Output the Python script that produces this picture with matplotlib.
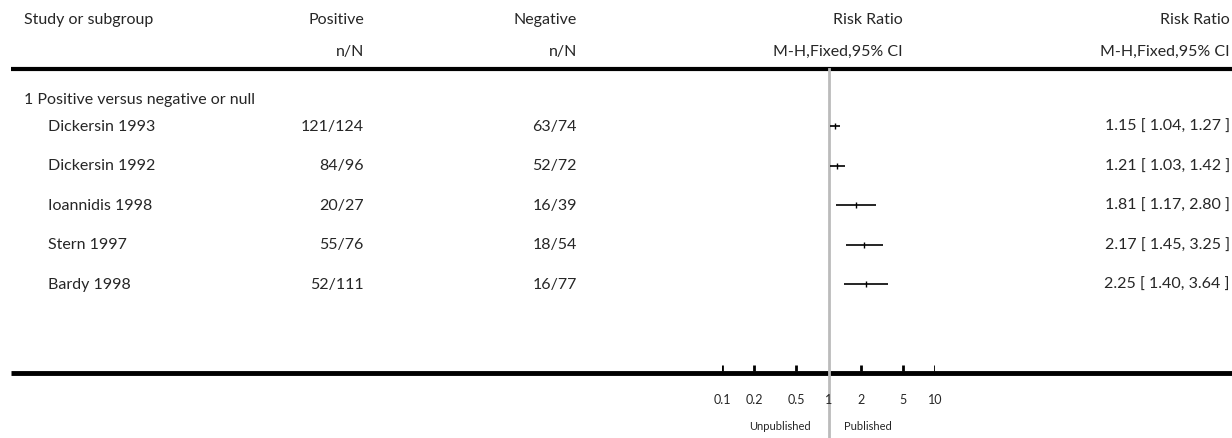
import numpy as np
import matplotlib.pyplot as plt

plt.rcParams['font.family'] = ['Lato', 'DejaVu Sans']

subgroup = '1 Positive versus negative or null'
studies = ['Dickersin 1993', 'Dickersin 1992', 'Ioannidis 1998', 'Stern 1997', 'Bardy 1998']
positive = ['121/124', '84/96', '20/27', '55/76', '52/111']
negative = ['63/74', '52/72', '16/39', '18/54', '16/77']
rr = [1.15, 1.21, 1.81, 2.17, 2.25]
lo = [1.04, 1.03, 1.17, 1.45, 1.40]
hi = [1.27, 1.42, 2.80, 3.25, 3.64]
ticks = [0.1, 0.2, 0.5, 1, 2, 5, 10]
tick_labels = ['0.1', '0.2', '0.5', '1', '2', '5', '10']

W, H = 1232, 439
fig = plt.figure(figsize=(W / 100, H / 100), dpi=100)

# background axes in pixel coordinates for the table text
bg = fig.add_axes([0, 0, 1, 1])
bg.set_xlim(0, W)
bg.set_ylim(H, 0)
bg.axis('off')

fs = 11.5
col = '#262626'
bg.text(24, 20, 'Study or subgroup', fontsize=fs, color=col, va='center', ha='left')
for x, top in [(364, 'Positive'), (577, 'Negative')]:
    bg.text(x, 20, top, fontsize=fs, color=col, va='center', ha='right')
    bg.text(x, 52, 'n/N', fontsize=fs, color=col, va='center', ha='right')
for x in [903, 1230]:
    bg.text(x, 20, 'Risk Ratio', fontsize=fs, color=col, va='center', ha='right')
    bg.text(x, 52, 'M-H,Fixed,95% CI', fontsize=fs, color=col, va='center', ha='right')

bg.plot([11, W], [70, 70], color='black', lw=3, solid_capstyle='butt')
bg.plot([11, W], [374, 374], color='black', lw=3.5, solid_capstyle='butt')

bg.text(24, 100, subgroup, fontsize=fs, color=col, va='center', ha='left')
row_y = 127 + 39.5 * np.arange(len(studies))
for i, y in enumerate(row_y):
    bg.text(48, y, studies[i], fontsize=fs, color=col, va='center', ha='left')
    bg.text(364, y, positive[i], fontsize=fs, color=col, va='center', ha='right')
    bg.text(577, y, negative[i], fontsize=fs, color=col, va='center', ha='right')
    bg.text(1230, y, '%.2f [ %.2f, %.2f ]' % (rr[i], lo[i], hi[i]),
            fontsize=fs, color=col, va='center', ha='right')

# forest axes, log scale, same vertical pixel mapping
x0, x1 = 722, 935
ax = fig.add_axes([x0 / W, 0, (x1 - x0) / W, 1])
ax.set_xscale('log')
ax.set_xlim(0.1, 10)
ax.set_ylim(H, 0)
ax.patch.set_alpha(0)
for s in ax.spines.values():
    s.set_visible(False)

ax.plot([1, 1], [70, H], color='#bbbbbb', lw=2, zorder=1)
for i, y in enumerate(row_y):
    ax.plot([lo[i], hi[i]], [y, y], color='black', lw=1.2, solid_capstyle='butt', zorder=3)
    ax.plot([rr[i]], [y], marker='|', color='black', markersize=5, mew=1, zorder=4)

for t, lab in zip(ticks, tick_labels):
    if t != 1:
        ax.plot([t, t], [372, 366], color='black', lw=2, solid_capstyle='butt')
    ax.text(t, 400, lab, fontsize=9, color=col, ha='center', va='center')
ax.set_xticks([])
ax.set_yticks([])
ax.minorticks_off()

ax.text(0.675, 427, 'Unpublished', fontsize=8, color=col, ha='right', va='center')
ax.text(1.41, 427, 'Published', fontsize=8, color=col, ha='left', va='center')

fig.savefig('out.png', dpi=100)
